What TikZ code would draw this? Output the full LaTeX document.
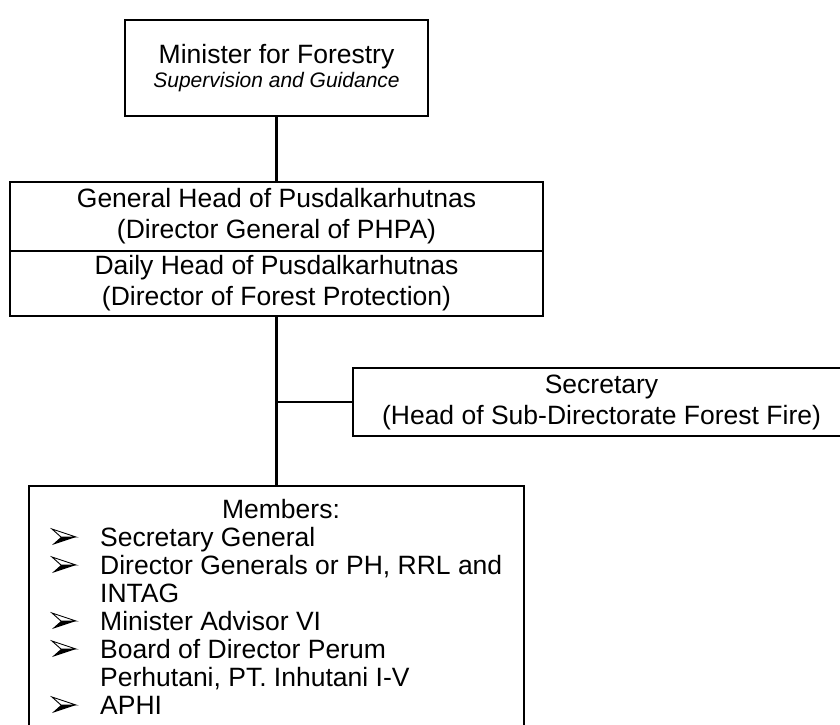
\documentclass[tikz,border=0pt]{standalone}
\usepackage{fontspec}
\setmainfont{Liberation Sans}
\newcommand\chartfont{\fontsize{26.5}{31}\selectfont}
\newcommand\notefont{\fontsize{21}{25}\selectfont\itshape}
\begin{document}
\begin{tikzpicture}[x=1pt,y=-1pt,
  box/.style={draw=black, line width=1.3pt, rectangle, inner sep=0pt,
              align=center, font=\chartfont},
  link/.style={draw=black, line width=2.8pt},
  itemtext/.style={anchor=base west, inner sep=0pt, font=\chartfont},
  % three-d arrowhead bullet: outlined upper half, solid lower half
  arrowbullet/.pic={
    \draw[line width=0.9pt, line join=miter, fill=white] (0,-8) -- (24,0) -- (9,0) -- cycle;
    \fill[black] (9,0) -- (24,0) -- (0,8) -- cycle;
  }]
\clip (0,0) rectangle (840,724);

% Minister
\node[box, minimum width=303pt, minimum height=96pt] (minister) at (276.5,68)
  {Minister for Forestry\\[-7pt]{\notefont Supervision and Guidance}};

% Pusdalkarhutnas heads (one box split in two)
\node[box, minimum width=533pt, minimum height=69pt] (general) at (276.5,216.5)
  {General Head of Pusdalkarhutnas\\(Director General of PHPA)};
\node[box, minimum width=533pt, minimum height=65pt] (daily) at (276.5,283.5)
  {Daily Head of Pusdalkarhutnas\\(Director of Forest Protection)};

% Secretary
\node[box, minimum width=497pt, minimum height=68pt] (secretary) at (601.5,402)
  {Secretary\\(Head of Sub-Directorate Forest Fire)};

% Members
\node[box, minimum width=495pt, minimum height=254pt] (members) at (276.5,613) {};
\node[anchor=base, inner sep=0pt, font=\chartfont] (memtitle) at (281,518) {Members:};
\pic (b1) at (52,537) {arrowbullet};
\node[itemtext] (m1) at (100,546) {Secretary General};
\pic (b2) at (52,565) {arrowbullet};
\node[itemtext] (m2) at (100,574) {Director Generals or PH, RRL and};
\node[itemtext] (m2b) at (100,602) {INTAG};
\pic (b3) at (52,621) {arrowbullet};
\node[itemtext] (m3) at (100,630) {Minister Advisor VI};
\pic (b4) at (52,649) {arrowbullet};
\node[itemtext] (m4) at (100,658) {Board of Director Perum};
\node[itemtext] (m4b) at (100,686) {Perhutani, PT. Inhutani I-V};
\pic (b5) at (52,705) {arrowbullet};
\node[itemtext] (m5) at (100,714) {APHI};

% Connectors
\draw[link] (minister.south) -- (general.north);
\draw[link] (daily.south) -- (members.north);
\coordinate (fork) at (daily.south |- secretary.west);
\draw[link] (fork) -- (secretary.west);
\end{tikzpicture}
\end{document}
